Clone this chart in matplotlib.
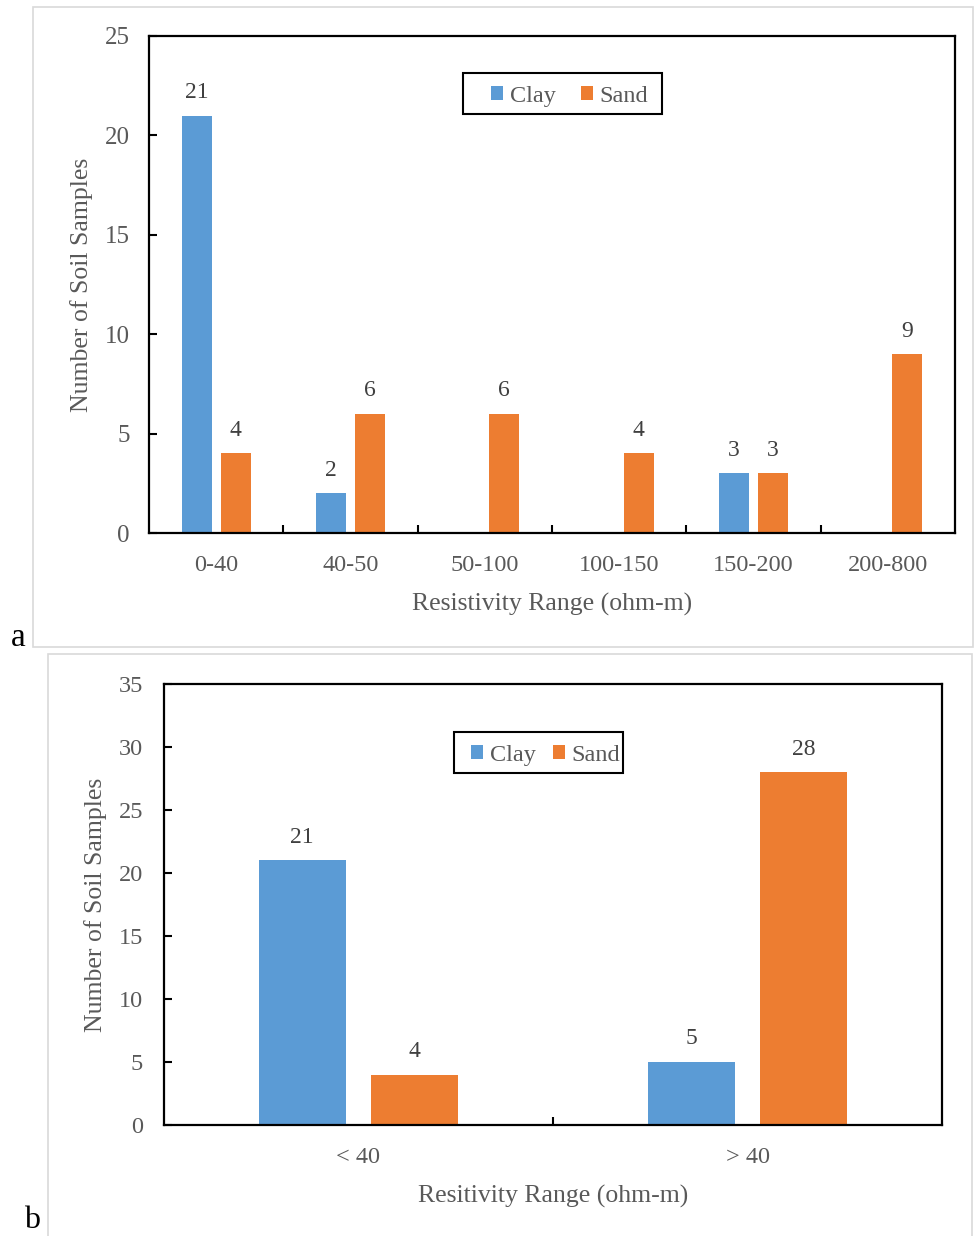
import matplotlib
matplotlib.use("Agg")
import matplotlib.pyplot as plt
import numpy as np
from matplotlib.patches import Rectangle

plt.rcParams['font.family'] = ['Liberation Serif', 'DejaVu Serif']

# Panel a data
cats_a = ["0-40", "40-50", "50-100", "100-150", "150-200", "200-800"]
clay_a = [21, 2, 0, 0, 3, 0]
sand_a = [4, 6, 6, 4, 3, 9]

# Panel b data
cats_b = ["< 40", "> 40"]
clay_b = [21, 5]
sand_b = [4, 28]

CLAY = "#5B9BD5"
SAND = "#ED7D31"
TXT = "#595959"

W, H = 974, 1236
fig = plt.figure(figsize=(W / 100, H / 100), dpi=100)


def fx(px):
    return px / W


def fy(py):
    return 1 - py / H


def frame(x0, y0, x1, y1, color, lw):
    fig.patches.append(Rectangle((fx(x0), fy(y1)), fx(x1) - fx(x0), fy(y0) - fy(y1),
                                 transform=fig.transFigure, fill=False,
                                 edgecolor=color, lw=lw, zorder=5))


# panel borders
frame(33, 7, 973, 647, "#D9D9D9", 1.2)
frame(48, 654, 972, 1240, "#D9D9D9", 1.2)


def make_panel(box, cats, clay, sand, ymax, xlabel, leg_box, leg_left, colsp,
               ylabel_right, ypad, tsize):
    l, t, r, b = box
    ax = fig.add_axes([fx(l), fy(b), fx(r) - fx(l), fy(t) - fy(b)])
    x = np.arange(len(cats))
    bw = 0.224
    off = 0.145
    bc = ax.bar(x - off, clay, bw, color=CLAY, label="Clay", zorder=2)
    bs = ax.bar(x + off, sand, bw, color=SAND, label="Sand", zorder=2)
    for bars, vals in ((bc, clay), (bs, sand)):
        for rect, v in zip(bars, vals):
            if v > 0:
                ax.annotate(str(v), (rect.get_x() + rect.get_width() / 2, v),
                            xytext=(0, 9), textcoords="offset points",
                            ha="center", va="bottom", fontsize=17, color="#404040")
    ax.set_xlim(-0.5, len(cats) - 0.5)
    ax.set_ylim(0, ymax)
    ax.set_yticks(np.arange(0, ymax + 1, 5))
    ax.set_xticks(x)
    ax.set_xticklabels(cats)
    ax.set_xticks(np.arange(0.5, len(cats) - 0.5, 1), minor=True)
    ax.tick_params(axis="x", which="major", length=0, pad=16, labelsize=17.5, labelcolor=TXT)
    ax.tick_params(axis="x", which="minor", direction="in", length=6, width=1.5)
    ax.tick_params(axis="y", direction="in", length=6, width=1.5, pad=ypad,
                   labelsize=tsize, labelcolor=TXT)
    for s in ax.spines.values():
        s.set_linewidth(1.6)
        s.set_color("black")
    ax.set_xlabel(xlabel, fontsize=18.5, color=TXT, labelpad=12)
    ax.set_ylabel("Number of Soil Samples", fontsize=18.5, color=TXT)
    ax.yaxis.set_label_coords((ylabel_right - l) / (r - l), 0.5)
    lx0, ly0, lx1, ly1 = leg_box
    ax.legend(loc="center left",
              bbox_to_anchor=((leg_left - l) / (r - l), (b - (ly0 + ly1) / 2 - 3) / (b - t)),
              ncol=2, fontsize=17.5, frameon=False,
              handlelength=0.5, handleheight=0.5, handletextpad=0.27,
              columnspacing=colsp, borderpad=0, borderaxespad=0, labelcolor=TXT)
    frame(lx0, ly0, lx1, ly1, "black", 1.5)
    return ax


make_panel((149, 36, 955, 533), cats_a, clay_a, sand_a, 25,
           "Resistivity Range (ohm-m)", (463, 73, 662, 114), 491, 1.05, 93, 14, 18)
make_panel((164, 684, 942, 1125), cats_b, clay_b, sand_b, 35,
           "Resitivity Range (ohm-m)", (454, 732, 623, 773), 471, 0.72, 107, 15, 17.5)

fig.text(fx(18), fy(646), "a", fontsize=24, color="black", ha="center", va="baseline")
fig.text(fx(32), fy(1235), "b", fontsize=23, color="black", ha="center", va="bottom")

fig.savefig("out.png", dpi=100)
